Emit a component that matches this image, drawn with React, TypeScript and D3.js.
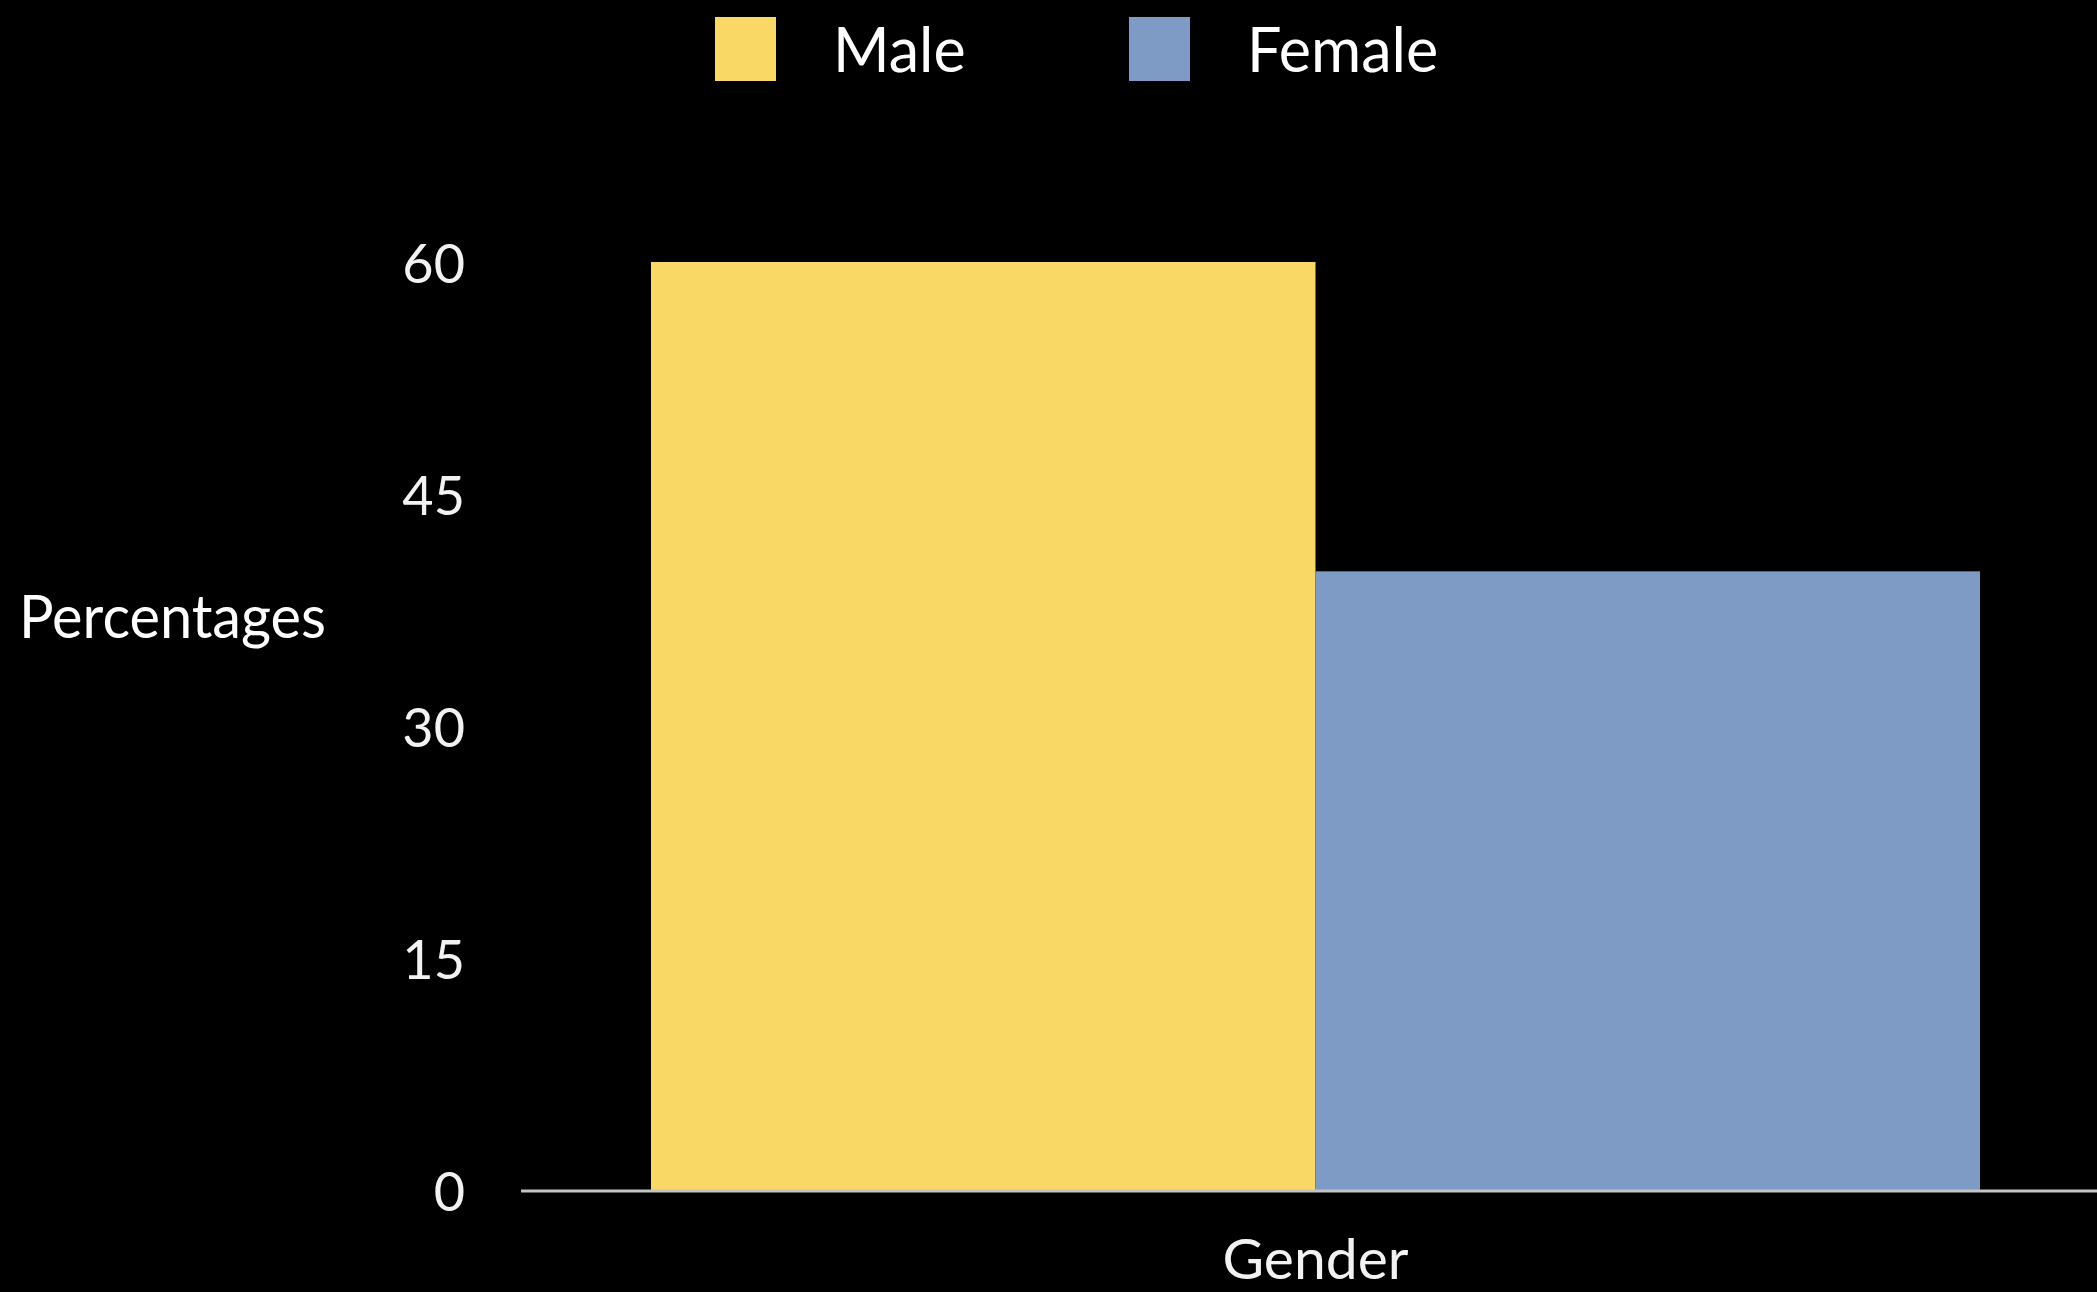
import React from "react";
import * as d3 from "d3";

// Chart data
const categories = ["Gender"];
const seriesNames = ["Male", "Female"];
const seriesValues = [60, 40];
const yTicks = [0, 15, 30, 45, 60];
const seriesColors = ["#F9D866", "#7E9BC6"];

const W = 2097;
const H = 1292;
const FONT = "Lato, 'Open Sans', sans-serif";

export default function App() {
  const y = d3.scaleLinear().domain([0, 60]).range([1190, 262]);
  const x0 = d3.scaleBand<string>().domain(categories).range([651, 1980]).padding(0);
  const x1 = d3
    .scaleBand<string>()
    .domain(seriesNames)
    .range([0, x0.bandwidth()])
    .padding(0);

  const legendX = [715, 1129];

  return (
    <svg
      width={W}
      height={H}
      style={{ position: "absolute", left: 0, top: 0, display: "block", background: "#000" }}
    >
      <rect x={0} y={0} width={W} height={H} fill="#000" />

      {/* legend */}
      {seriesNames.map((name, i) => (
        <g key={name}>
          <rect x={legendX[i]} y={17} width={61} height={64} fill={seriesColors[i]} />
          <text
            x={legendX[i] + 118}
            y={72}
            fill="#fff"
            fontFamily={FONT}
            fontSize={61}
          >
            {name}
          </text>
        </g>
      ))}

      {/* bars */}
      {categories.map((c) => (
        <g key={c} transform={`translate(${x0(c)},0)`}>
          {seriesNames.map((s, i) => (
            <rect
              key={s}
              x={x1(s)}
              y={y(seriesValues[i])}
              width={x1.bandwidth()}
              height={y(0) - y(seriesValues[i])}
              fill={seriesColors[i]}
            />
          ))}
        </g>
      ))}

      {/* baseline */}
      <line x1={521} x2={W} y1={y(0) + 1} y2={y(0) + 1} stroke="#c4c4c4" strokeWidth={3} />

      {/* y tick labels */}
      {yTicks.map((t) => (
        <text
          key={t}
          x={465}
          y={y(t)}
          textAnchor="end"
          dominantBaseline="central"
          fill="#f2f2f2"
          fontFamily={FONT}
          fontSize={54}
        >
          {t}
        </text>
      ))}

      {/* axis titles */}
      <text
        x={19}
        y={615}
        dominantBaseline="central"
        fill="#fff"
        fontFamily={FONT}
        fontSize={60}
        textLength={307}
        lengthAdjust="spacingAndGlyphs"
      >
        Percentages
      </text>
      {categories.map((c) => (
        <text
          key={c}
          x={(x0(c) as number) + x0.bandwidth() / 2}
          y={1257}
          textAnchor="middle"
          dominantBaseline="central"
          fill="#f2f2f2"
          fontFamily={FONT}
          fontSize={57}
        >
          {c}
        </text>
      ))}
    </svg>
  );
}
